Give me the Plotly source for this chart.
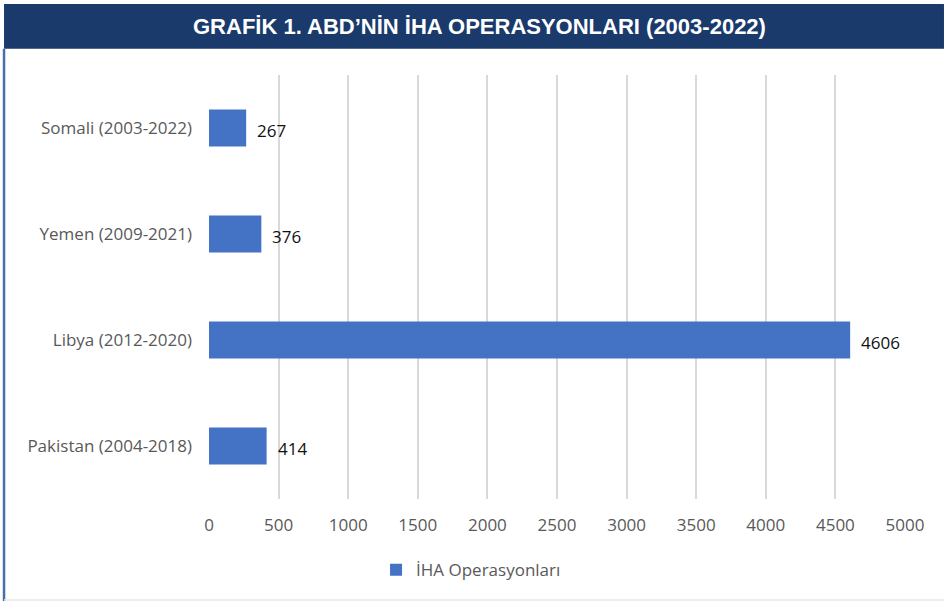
import plotly.graph_objects as go

ulkeler = ['Somali (2003-2022)', 'Yemen (2009-2021)', 'Libya (2012-2020)', 'Pakistan (2004-2018)']
operasyonlar = [267, 376, 4606, 414]
x_ticks = [0, 500, 1000, 1500, 2000, 2500, 3000, 3500, 4000, 4500, 5000]

fig = go.Figure(data=[
    go.Bar(name='İHA Operasyonları', y=ulkeler, x=operasyonlar, orientation='h',
           marker_color='#4472C4', marker_line_width=0)
])

# value labels next to the bars
for ulke, deger in zip(ulkeler, operasyonlar):
    fig.add_annotation(x=deger, y=ulke, text=str(deger), showarrow=False,
                       xanchor='left', xshift=9, yshift=-2,
                       font=dict(family='Open Sans', size=17, color='#111111'))

# title bar and frame
fig.add_shape(type='rect', xref='paper', yref='paper', x0=-0.2945, x1=1.056,
              y0=1.0622, y1=1.1675, fillcolor='#1a3a6c', line_width=0, layer='below')
fig.add_shape(type='line', xref='paper', yref='paper', x0=-0.2945, x1=-0.2945,
              y0=-0.241, y1=1.0622, line=dict(color='#4a6fa8', width=2.5))
fig.add_shape(type='line', xref='paper', yref='paper', x0=-0.2945, x1=1.056,
              y0=-0.238, y1=-0.238, line=dict(color='#e6e6e6', width=1.5))
fig.add_annotation(xref='paper', yref='paper', x=0.389, y=1.1148, yanchor='middle',
                   showarrow=False,
                   text='<b>GRAFİK 1. ABD’NİN İHA OPERASYONLARI (2003-2022)</b>',
                   font=dict(family='Liberation Sans, Arial', size=22, color='white'))

fig.update_layout(
    width=944, height=601,
    margin=dict(l=209, r=39, t=75, b=102),
    paper_bgcolor='white', plot_bgcolor='white',
    bargap=0.65,
    showlegend=True,
    legend=dict(orientation='h', x=0.240, xanchor='left', y=-0.168, yanchor='middle',
                font=dict(family='Open Sans', size=17, color='#595959')),
    xaxis=dict(range=[0, 5000], tickvals=x_ticks, showgrid=True, gridcolor='#d9d9d9', gridwidth=1.5,
               zeroline=False, showline=False, ticklabelstandoff=14,
               tickfont=dict(family='Open Sans', size=17, color='#595959')),
    yaxis=dict(categoryorder='array', categoryarray=ulkeler[::-1], showgrid=False,
               ticklabelstandoff=16,
               tickfont=dict(family='Open Sans', size=17, color='#595959')),
)

fig.write_html('out.html', config={'displayModeBar': False},
               post_script="document.body.style.margin='0px';")
